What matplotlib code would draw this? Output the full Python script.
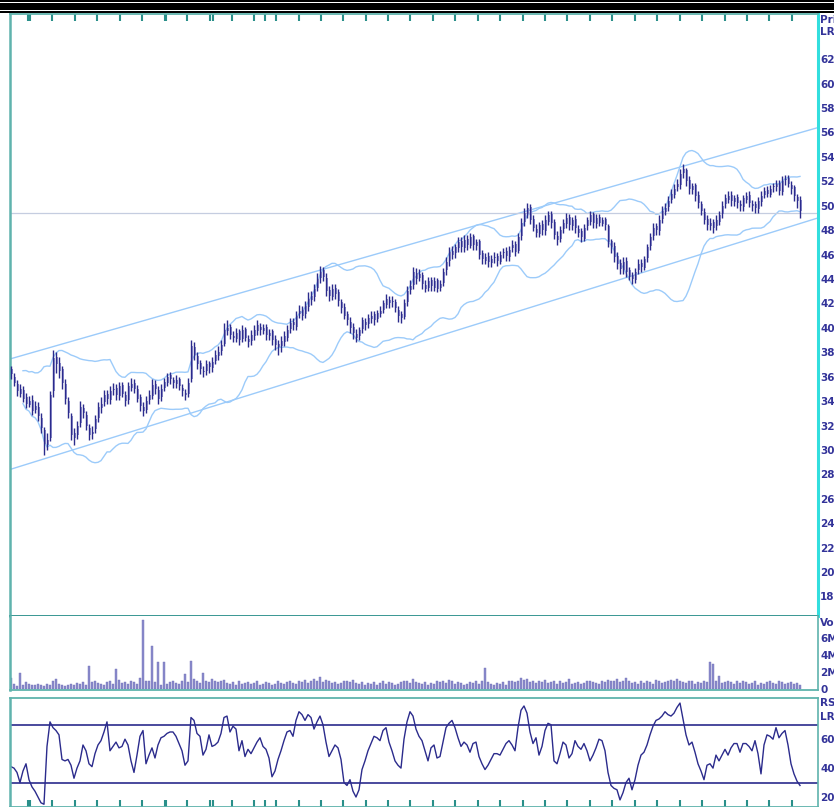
import matplotlib
matplotlib.use("Agg")
import matplotlib.pyplot as plt
import numpy as np
import pandas as pd
from matplotlib.patches import Rectangle

# === DATA (one value per daily bar) ===
OPEN = [
    36.6, 36.0, 35.4, 34.6, 34.9, 34.3, 33.7, 34.1, 33.3, 33.5,
    32.6, 31.6, 30.4, 31.0, 34.8, 37.6, 37.1, 36.6, 35.4, 34.0,
    32.8, 31.4, 31.2, 32.2, 33.4, 32.9, 31.8, 31.3, 31.7, 32.6,
    33.4, 33.9, 34.6, 34.1, 34.9, 35.1, 34.4, 35.3, 34.5, 34.1,
    35.1, 35.5, 35.0, 34.3, 33.5, 33.3, 34.1, 34.4, 35.4, 34.9,
    34.3, 35.1, 35.5, 36.1, 35.7, 35.4, 35.8, 35.1, 34.7, 34.6,
    35.8, 38.4, 37.7, 37.1, 36.5, 36.5, 37.1, 36.7, 37.3, 37.7,
    38.1, 38.7, 39.7, 40.1, 39.3, 39.1, 39.7, 39.1, 39.9, 39.1,
    38.9, 39.3, 39.7, 40.1, 39.7, 40.1, 39.3, 39.7, 39.1, 38.7,
    38.5, 38.8, 39.2, 39.9, 40.5, 40.1, 41.1, 41.5, 41.1, 41.7,
    42.3, 42.5, 43.3, 44.1, 44.7, 44.1, 43.1, 42.5, 43.3, 42.9,
    42.1, 41.7, 41.1, 40.5, 40.1, 39.5, 39.3, 39.9, 40.5, 40.3,
    40.7, 41.1, 40.7, 41.1, 41.5, 41.9, 42.3, 42.1, 42.1, 41.5,
    41.1, 40.9, 42.1, 43.1, 43.5, 44.5, 44.1, 44.3, 43.5, 43.3,
    43.9, 43.3, 43.9, 43.3, 43.7, 44.7, 45.5, 46.3, 46.1, 46.5,
    47.1, 46.5, 47.3, 46.7, 47.5, 46.7, 47.1, 46.1, 45.5, 45.9,
    45.3, 45.7, 45.9, 45.4, 46.1, 46.3, 45.8, 46.5, 46.9, 46.3,
    47.5, 48.7, 49.3, 49.9, 48.9, 48.1, 47.7, 48.5, 47.9, 48.7,
    49.3, 48.7, 47.5, 47.3, 48.1, 48.5, 49.1, 48.3, 48.9, 48.1,
    47.9, 47.3, 48.3, 48.7, 49.3, 48.5, 49.1, 48.5, 48.9, 48.3,
    47.1, 46.7, 45.9, 45.3, 44.7, 45.5, 44.7, 44.3, 43.9, 44.7,
    45.3, 44.9, 45.7, 46.7, 47.5, 48.3, 47.9, 48.9, 49.5, 49.9,
    50.5, 50.9, 51.5, 51.7, 52.7, 52.9, 52.1, 51.3, 51.7, 50.9,
    50.1, 49.5, 48.9, 48.3, 48.7, 48.3, 48.7, 49.3, 50.1, 50.5,
    50.9, 50.3, 50.7, 50.1, 49.9, 50.5, 50.9, 50.1, 50.1, 49.7,
    50.3, 50.9, 51.3, 50.9, 51.5, 51.5, 51.9, 51.1, 52.1, 52.3,
    51.7, 51.5, 50.7, 50.5,
]
HIGH = [
    36.9, 36.3, 35.7, 35.4, 35.2, 34.7, 34.4, 34.5, 34.0, 33.9,
    33.0, 31.9, 31.4, 34.8, 38.2, 38.0, 37.6, 36.9, 35.8, 34.3,
    33.0, 31.8, 32.4, 34.0, 33.8, 33.2, 32.1, 32.0, 32.9, 33.9,
    34.3, 34.9, 34.9, 35.2, 35.5, 35.4, 35.6, 35.6, 34.8, 35.6,
    35.9, 35.8, 35.3, 34.6, 33.9, 34.4, 34.9, 35.8, 35.7, 35.2,
    35.4, 35.9, 36.3, 36.4, 36.0, 36.1, 36.0, 35.4, 35.0, 35.9,
    39.0, 38.8, 38.0, 37.4, 36.9, 37.4, 37.3, 37.6, 38.2, 38.5,
    39.0, 40.4, 40.6, 40.3, 39.7, 40.0, 39.9, 40.2, 40.1, 39.4,
    39.8, 40.2, 40.6, 40.4, 40.3, 40.3, 39.9, 39.9, 39.4, 39.0,
    39.3, 39.7, 40.2, 40.8, 40.8, 41.4, 41.9, 41.8, 42.2, 42.9,
    43.0, 43.6, 44.5, 45.1, 45.0, 44.5, 43.4, 43.6, 43.6, 43.2,
    42.4, 42.0, 41.4, 40.9, 40.4, 39.9, 40.1, 40.9, 40.8, 41.1,
    41.4, 41.4, 41.5, 41.8, 42.3, 42.8, 42.6, 42.6, 42.4, 41.8,
    41.4, 42.4, 43.4, 43.9, 45.0, 44.9, 44.8, 44.6, 43.9, 44.2,
    44.2, 44.2, 44.1, 43.9, 44.9, 45.8, 46.6, 46.7, 46.9, 47.4,
    47.4, 47.6, 47.6, 47.8, 47.7, 47.3, 47.3, 46.4, 46.1, 46.2,
    46.0, 46.2, 46.1, 46.3, 46.5, 46.6, 46.7, 47.2, 47.1, 47.8,
    49.0, 49.8, 50.2, 50.1, 49.2, 48.5, 48.7, 48.8, 49.2, 49.6,
    49.6, 48.9, 47.9, 48.3, 48.9, 49.4, 49.3, 49.1, 49.2, 48.4,
    48.2, 48.5, 49.1, 49.6, 49.5, 49.3, 49.3, 49.1, 49.1, 48.5,
    47.3, 47.0, 46.2, 45.6, 45.8, 45.8, 45.0, 44.6, 44.9, 45.6,
    45.6, 45.9, 46.9, 47.8, 48.6, 48.6, 49.2, 50.0, 50.2, 50.8,
    51.4, 51.8, 52.2, 53.0, 53.4, 53.1, 52.4, 51.9, 51.9, 51.2,
    50.4, 49.8, 49.2, 49.0, 48.9, 49.2, 49.6, 50.4, 51.0, 51.2,
    51.2, 50.9, 51.0, 50.5, 50.9, 51.1, 51.2, 50.5, 50.4, 50.7,
    51.2, 51.5, 51.6, 51.7, 51.9, 52.1, 52.1, 52.4, 52.5, 52.5,
    52.0, 51.7, 51.0, 50.8,
]
LOW = [
    35.8, 35.2, 34.4, 34.3, 33.9, 33.4, 33.5, 32.9, 33.0, 32.4,
    31.4, 29.6, 30.0, 30.7, 34.3, 36.3, 35.9, 35.0, 33.8, 32.6,
    30.8, 30.4, 30.9, 31.9, 32.6, 31.6, 30.8, 30.9, 31.4, 32.3,
    33.0, 33.6, 33.8, 33.8, 34.5, 34.1, 34.1, 34.3, 33.6, 33.8,
    34.8, 34.7, 33.9, 33.2, 32.8, 33.0, 33.8, 34.2, 34.6, 33.8,
    34.0, 34.8, 35.2, 35.4, 35.1, 35.1, 34.9, 34.4, 34.1, 34.3,
    35.6, 37.4, 36.6, 36.2, 36.0, 36.1, 36.3, 36.4, 37.0, 37.4,
    37.8, 38.5, 39.4, 39.1, 38.8, 38.8, 38.6, 38.8, 38.9, 38.4,
    38.6, 39.0, 39.4, 39.4, 39.5, 39.0, 39.0, 38.6, 38.2, 37.8,
    38.0, 38.5, 38.9, 39.6, 39.8, 39.8, 40.8, 40.6, 40.8, 41.4,
    41.9, 42.2, 43.0, 43.7, 43.8, 42.6, 42.2, 42.3, 42.4, 41.8,
    41.2, 40.7, 40.2, 39.6, 39.1, 38.8, 39.0, 39.6, 39.8, 40.0,
    40.4, 40.2, 40.5, 40.9, 41.2, 41.6, 41.6, 41.7, 41.3, 40.5,
    40.4, 40.7, 41.8, 42.8, 43.2, 43.6, 43.8, 43.2, 42.9, 43.0,
    43.0, 43.0, 42.9, 43.0, 43.4, 44.3, 45.1, 45.6, 45.7, 46.2,
    46.2, 46.2, 46.4, 46.5, 46.4, 46.4, 45.6, 45.2, 45.2, 45.0,
    45.0, 45.3, 45.1, 45.2, 45.7, 45.5, 45.5, 46.2, 45.9, 46.1,
    47.2, 48.3, 49.0, 48.5, 47.9, 47.4, 47.4, 47.6, 47.6, 48.4,
    48.2, 47.3, 46.8, 47.0, 47.8, 48.2, 48.0, 48.0, 47.8, 47.4,
    47.0, 47.1, 48.0, 48.4, 48.2, 48.2, 48.3, 48.3, 48.0, 46.6,
    46.1, 45.4, 44.8, 44.4, 44.4, 44.2, 43.9, 43.6, 43.7, 44.4,
    44.6, 44.7, 45.4, 46.4, 47.2, 47.6, 47.6, 48.6, 49.2, 49.6,
    50.2, 50.6, 51.2, 51.4, 52.3, 51.6, 51.0, 51.0, 50.4, 49.8,
    49.2, 48.5, 48.0, 48.0, 47.8, 48.0, 48.4, 49.0, 49.8, 50.2,
    50.0, 50.0, 49.8, 49.6, 49.6, 50.2, 49.9, 49.6, 49.4, 49.4,
    50.0, 50.6, 50.7, 50.7, 51.1, 51.2, 50.9, 50.9, 51.7, 51.5,
    51.0, 50.4, 49.8, 49.0,
]
CLOSE = [
    36.2, 35.5, 34.8, 35.0, 34.2, 33.8, 34.0, 33.2, 33.6, 32.8,
    31.8, 30.5, 30.8, 34.5, 37.5, 37.0, 36.5, 35.5, 34.2, 33.0,
    31.2, 31.0, 32.0, 33.5, 33.0, 32.0, 31.2, 31.5, 32.5, 33.5,
    33.8, 34.5, 34.2, 34.8, 35.0, 34.5, 35.2, 34.6, 34.0, 35.2,
    35.4, 35.0, 34.2, 33.6, 33.2, 34.0, 34.5, 35.3, 35.0, 34.2,
    35.0, 35.6, 36.0, 35.8, 35.5, 35.7, 35.2, 34.8, 34.5, 35.5,
    38.5, 37.8, 37.0, 36.6, 36.4, 37.0, 36.8, 37.2, 37.8, 38.0,
    38.6, 39.8, 40.0, 39.4, 39.2, 39.6, 39.0, 39.8, 39.2, 38.8,
    39.4, 39.8, 40.2, 39.8, 40.0, 39.4, 39.6, 39.0, 38.6, 38.4,
    38.9, 39.3, 39.8, 40.4, 40.2, 41.0, 41.4, 41.0, 41.8, 42.4,
    42.6, 43.2, 44.0, 44.6, 44.2, 43.0, 42.6, 43.2, 42.8, 42.2,
    41.6, 41.0, 40.6, 40.0, 39.6, 39.2, 39.8, 40.6, 40.2, 40.8,
    41.0, 40.6, 41.2, 41.4, 42.0, 42.4, 42.0, 42.2, 41.6, 41.0,
    40.8, 42.0, 43.0, 43.4, 44.6, 44.0, 44.4, 43.6, 43.2, 43.8,
    43.4, 43.8, 43.2, 43.6, 44.6, 45.4, 46.2, 46.0, 46.6, 47.0,
    46.6, 47.2, 46.8, 47.4, 46.8, 47.0, 46.0, 45.6, 45.8, 45.4,
    45.6, 45.8, 45.5, 46.0, 46.2, 45.9, 46.4, 46.8, 46.2, 47.4,
    48.6, 49.4, 49.8, 48.8, 48.2, 47.8, 48.4, 48.0, 48.8, 49.2,
    48.6, 47.6, 47.2, 48.0, 48.6, 49.0, 48.4, 48.8, 48.2, 47.8,
    47.4, 48.2, 48.8, 49.2, 48.6, 49.0, 48.6, 48.8, 48.4, 47.0,
    46.6, 45.8, 45.2, 44.8, 45.4, 44.6, 44.2, 44.0, 44.6, 45.2,
    45.0, 45.6, 46.6, 47.4, 48.2, 48.0, 48.8, 49.6, 49.8, 50.4,
    51.0, 51.4, 51.8, 52.6, 53.0, 52.0, 51.4, 51.6, 50.8, 50.2,
    49.6, 48.8, 48.4, 48.6, 48.2, 48.8, 49.2, 50.0, 50.6, 50.8,
    50.4, 50.6, 50.2, 50.0, 50.6, 50.8, 50.2, 50.0, 49.8, 50.4,
    50.8, 51.2, 51.0, 51.4, 51.6, 51.8, 51.2, 52.0, 52.2, 51.8,
    51.4, 50.8, 50.4, 49.6,
]
# volume in millions
VOLUME = [
    1.3, 0.6, 0.4, 1.9, 0.5, 0.8, 0.6, 0.5, 0.5, 0.6,
    0.5, 0.4, 0.6, 0.5, 1.0, 1.2, 0.6, 0.5, 0.4, 0.5,
    0.6, 0.5, 0.7, 0.6, 0.8, 0.5, 2.7, 0.8, 0.9, 0.7,
    0.6, 0.5, 0.8, 0.9, 0.6, 2.3, 1.1, 0.7, 0.8, 0.6,
    0.9, 0.8, 0.6, 1.3, 8.0, 1.0, 0.9, 5.0, 0.8, 3.1,
    0.5, 3.1, 0.6, 0.8, 0.9, 0.7, 0.6, 1.0, 1.8, 0.8,
    3.3, 1.2, 0.9, 0.7, 1.9, 1.0, 0.8, 1.2, 0.9, 0.8,
    1.0, 1.1, 0.7, 0.6, 0.8, 0.5, 0.9, 0.6, 0.7, 0.8,
    0.6, 0.7, 0.9, 0.5, 0.6, 0.8, 0.7, 0.5, 0.6, 0.9,
    0.7, 0.6, 0.8, 1.0, 0.7, 0.6, 0.9, 0.8, 1.1, 0.7,
    0.9, 1.2, 1.0, 1.4, 0.8, 1.1, 0.9, 0.7, 0.8, 0.6,
    0.7, 0.9, 1.0, 0.8, 1.1, 0.7, 0.6, 0.8, 0.5, 0.7,
    0.6, 0.8, 0.5, 0.7, 0.9, 0.6, 0.8, 0.7, 0.5, 0.6,
    0.8, 1.0, 0.9, 0.7, 1.2, 0.8, 0.7, 0.6, 0.8, 0.5,
    0.7, 0.6, 0.9, 0.8, 1.0, 0.7, 1.1, 0.9, 0.6, 0.8,
    0.7, 0.5, 0.6, 0.8, 0.7, 0.9, 0.6, 1.0, 2.5, 0.8,
    0.6, 0.5, 0.7, 0.6, 0.8, 0.5, 0.9, 1.0, 0.8, 0.9,
    1.3, 1.1, 1.2, 0.8, 1.0, 0.7, 0.9, 0.8, 1.1, 0.7,
    0.8, 1.0, 0.6, 0.9, 0.7, 0.8, 1.2, 0.6, 0.7, 0.8,
    0.6, 0.7, 0.9, 1.0, 0.8, 0.7, 0.6, 0.9, 0.8, 1.1,
    1.0, 0.9, 1.2, 0.8, 1.0, 1.3, 0.9, 0.7, 0.8, 0.6,
    0.9, 0.7, 1.0, 0.8, 0.6, 1.1, 0.9, 0.7, 0.8, 1.0,
    1.1, 0.9, 1.2, 1.0, 0.8, 0.7, 1.0, 0.9, 0.6, 0.8,
    0.7, 1.0, 0.8, 3.1, 2.9, 0.9, 1.5, 0.7, 0.8, 1.0,
    0.8, 0.6, 0.9, 0.7, 1.0, 0.8, 0.6, 0.7, 0.9, 0.5,
    0.7, 0.6, 0.8, 1.0, 0.7, 0.6, 0.9, 0.8, 0.6, 0.7,
    0.8, 0.6, 0.7, 0.5,
]
RSI = [
    41, 40, 37, 30, 38, 43, 32, 27, 24, 20,
    16, 15, 55, 72, 68, 66, 63, 46, 45, 46,
    42, 33, 40, 45, 56, 52, 43, 41, 50, 56,
    59, 65, 72, 52, 55, 58, 54, 55, 60, 56,
    45, 37, 49, 62, 66, 43, 49, 54, 47, 56,
    61, 62, 64, 65, 65, 62, 57, 52, 42, 45,
    75, 73, 64, 62, 49, 53, 63, 55, 56, 58,
    64, 75, 76, 65, 69, 67, 52, 59, 48, 53,
    50, 54, 58, 61, 55, 53, 47, 34, 38, 46,
    52, 59, 65, 66, 62, 73, 79, 77, 73, 77,
    75, 67, 72, 76, 70, 58, 48, 52, 56, 54,
    46, 30, 28, 32, 24, 20, 25, 39, 45, 52,
    57, 62, 61, 59, 66, 68, 58, 52, 45, 42,
    40, 60, 72, 79, 76, 67, 62, 59, 52, 45,
    54, 56, 47, 48, 58, 68, 71, 73, 68, 61,
    55, 58, 56, 51, 57, 58, 48, 43, 39, 42,
    46, 50, 50, 49, 53, 57, 59, 56, 52, 68,
    80, 83, 78, 65, 57, 61, 49, 55, 66, 71,
    70, 45, 43, 50, 58, 56, 47, 50, 59, 55,
    53, 57, 52, 45, 49, 54, 60, 59, 52, 37,
    28, 26, 25, 18, 23, 30, 33, 25, 32, 42,
    49, 51, 56, 63, 69, 73, 74, 76, 79, 77,
    76, 78, 82, 85, 74, 63, 56, 58, 51, 43,
    38, 32, 42, 43, 40, 49, 45, 49, 53, 49,
    54, 57, 57, 51, 57, 57, 55, 52, 59, 50,
    36, 56, 63, 62, 60, 68, 61, 64, 66, 56,
    43, 36, 31, 28,
]

PRICE_TICKS = list(range(18, 64, 2))
VOL_TICKS = [0, 2, 4, 6]
VOL_TICK_LABELS = ["0", "2M", "4M", "6M"]
RSI_TICKS = [20, 40, 60]
RSI_LEVELS = [70, 30]
LAST_LINE = 49.4
CHANNEL_UPPER = (37.45, 56.4)   # price at left / right edge of the panel
CHANNEL_LOWER = (28.4, 49.0)
# date marks along top/bottom edges, in bar positions
DATE_MARKS = [5.7, 6.3, 13.7, 21.3, 28.7, 36.3, 43.7, 51.3, 51.8, 58.7,
              66.3, 67.4, 73.7, 81.0, 84.7, 88.3, 96.0, 103.3, 110.7, 118.3,
              125.7, 133.0, 140.7, 148.0, 155.7, 163.0, 170.7, 178.0, 185.3,
              193.0, 200.3, 208.0, 215.3, 223.0, 230.3, 238.0, 245.3, 252.7,
              260.3]

# === STYLE ===
NAVY = "#2b2b8c"
BODY = "#8f8fcc"
BAND = "#9ccbfa"
LABEL = "#333399"
TEAL = "#5fb3ad"
DARK_TEAL = "#2a8f8a"
CYAN = "#33dede"
FS = 7.5

W, H = 834, 807
x = np.arange(len(CLOSE))
XLIM = (-0.33, 269.0)

fig = plt.figure(figsize=(W / 100, H / 100), dpi=100)
fig.patch.set_facecolor("white")

def fx(px):
    return px / W

def fy(py):
    return 1 - py / H

ax_p = fig.add_axes([fx(10), fy(616), fx(808), 602 / H])
ax_v = fig.add_axes([fx(10), fy(690), fx(808), 74 / H])
ax_r = fig.add_axes([fx(10), 0.0, fx(808), 109 / H])

# black title bars on top
for y0, y1 in [(0, 2), (3.5, 9.5), (11, 13)]:
    fig.patches.append(Rectangle((0, fy(y1)), 1, (y1 - y0) / H,
                                 transform=fig.transFigure, facecolor="black",
                                 edgecolor="none", antialiased=False, zorder=0))

def style(ax, top_color, bottom_color, right_color, right_lw):
    ax.set_facecolor("white")
    ax.set_xlim(*XLIM)
    ax.set_xticks([])
    ax.spines["left"].set_color(TEAL)
    ax.spines["left"].set_linewidth(1.8)
    ax.spines["right"].set_color(right_color)
    ax.spines["right"].set_linewidth(right_lw)
    ax.spines["top"].set_color(top_color)
    ax.spines["top"].set_linewidth(1.3)
    ax.spines["bottom"].set_color(bottom_color)
    ax.spines["bottom"].set_linewidth(1.3)
    ax.yaxis.tick_right()
    ax.tick_params(axis="y", length=0, pad=1.5, labelsize=FS, labelcolor=LABEL)

def side_label(ax, y, text):
    ax.text(1.002, y, text, transform=ax.get_yaxis_transform(), fontsize=FS,
            fontweight="bold", color=LABEL, va="center", clip_on=False)

# --- price panel ---
s = pd.Series(CLOSE)
mid = s.rolling(20, min_periods=5).mean()
sd = s.rolling(20, min_periods=5).std(ddof=0)
ax_p.plot(x, mid + 2 * sd, color=BAND, lw=1)
ax_p.plot(x, mid - 2 * sd, color=BAND, lw=1)
ax_p.plot(XLIM, CHANNEL_UPPER, color=BAND, lw=1)
ax_p.plot(XLIM, CHANNEL_LOWER, color=BAND, lw=1)
ax_p.axhline(LAST_LINE, color="#c5cde0", lw=0.9)

o = np.array(OPEN)
c = np.array(CLOSE)
ax_p.bar(x + 0.25, np.abs(c - o), bottom=np.minimum(o, c), width=0.7,
         color=BODY, zorder=3)
ax_p.vlines(x, LOW, HIGH, color=NAVY, lw=1, zorder=4)

ax_p.set_ylim(16.4, 65.7)
ax_p.set_yticks(PRICE_TICKS)
style(ax_p, TEAL, DARK_TEAL, CYAN, 2.2)
ax_p.set_yticklabels([str(v) for v in PRICE_TICKS], fontweight="bold")
side_label(ax_p, 65.2, "Price")
side_label(ax_p, 64.2, "LR")
ax_p.vlines(DATE_MARKS, 1 - 7 / 602, 1, transform=ax_p.get_xaxis_transform(),
            color=DARK_TEAL, lw=1.5)

# --- volume panel ---
ax_v.bar(x, VOLUME, width=0.6, color="#8a8acb", edgecolor="#7373bb", lw=0.3)
ax_v.set_ylim(-0.1, 8.5)
ax_v.set_yticks(VOL_TICKS)
style(ax_v, DARK_TEAL, TEAL, TEAL, 1.2)
ax_v.spines["top"].set_visible(False)
ax_v.set_yticklabels(VOL_TICK_LABELS, fontweight="bold")
side_label(ax_v, 7.7, "Vol")

# --- RSI panel ---
for lv in RSI_LEVELS:
    ax_r.axhline(lv, color=NAVY, lw=1.2)
ax_r.plot(x, RSI, color=NAVY, lw=1)
ax_r.set_ylim(13.1, 88.5)
ax_r.set_yticks(RSI_TICKS)
style(ax_r, TEAL, TEAL, TEAL, 1.2)
ax_r.set_yticklabels([str(v) for v in RSI_TICKS], fontweight="bold")
side_label(ax_r, 84.8, "RSI")
side_label(ax_r, 75.2, "LR")
ax_r.vlines(DATE_MARKS, 0, 7 / 109, transform=ax_r.get_xaxis_transform(),
            color=DARK_TEAL, lw=1.5)

fig.savefig("out.png", dpi=100)
